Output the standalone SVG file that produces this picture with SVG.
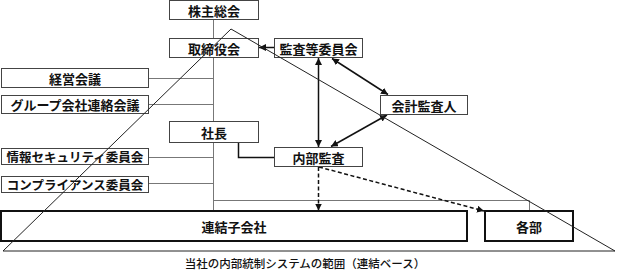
<svg xmlns="http://www.w3.org/2000/svg" width="617" height="271" viewBox="0 0 617 271">
<style>
text{font-family:"Noto Sans CJK JP","Noto Sans CJK SC",sans-serif;font-size:13px;font-weight:600;fill:#111;text-anchor:middle;dominant-baseline:central}
.b{fill:#fff;stroke:#444;stroke-width:1}
.t{fill:#fff;stroke:#111;stroke-width:2}
.g{stroke:#777;stroke-width:1;fill:none}
.a{stroke:#111;stroke-width:1.5;fill:none}
.d{stroke:#111;stroke-width:1.5;fill:none;stroke-dasharray:4 2.5}
.tri{stroke:#222;stroke-width:1;fill:none}
</style>
<defs>
<marker id="ah" viewBox="0 0 10 10" refX="10" refY="5" markerWidth="7" markerHeight="7" markerUnits="userSpaceOnUse" orient="auto-start-reverse"><path d="M0,0 L10,5 L0,10 z" fill="#111"/></marker>
</defs>
<g id="connectors">
<path class="g" d="M213.5,19 V211 M148,78.5 H213.5 M148,104.5 H213.5 M148,157.5 H213.5 M148,183.5 H213.5 M213.5,200.5 H529.5 V211"/>
<path class="a" d="M238.5,142 V157.5 H274.5"/>
<line class="a" x1="274" y1="47.5" x2="259" y2="47.5" marker-end="url(#ah)"/>
<line class="a" x1="318.5" y1="58" x2="318.5" y2="147" marker-start="url(#ah)" marker-end="url(#ah)"/>
<line class="a" x1="332" y1="58.5" x2="388" y2="94.5" marker-start="url(#ah)" marker-end="url(#ah)"/>
<line class="a" x1="387" y1="115" x2="331" y2="146.5" marker-start="url(#ah)" marker-end="url(#ah)"/>
<line class="d" x1="318.5" y1="167" x2="318.5" y2="210.5" marker-end="url(#ah)"/>
<line class="d" x1="319" y1="167" x2="484" y2="211" marker-end="url(#ah)"/>
</g>
<g id="n1"><rect class="b" x="169.5" y="0.5" width="89" height="19"/><text x="214" y="10">株主総会</text></g>
<g id="n2"><rect class="b" x="169.5" y="38.5" width="89" height="19"/><text x="214" y="48">取締役会</text></g>
<g id="n3"><rect class="b" x="274.5" y="38.5" width="88" height="19"/><text x="318.5" y="48">監査等委員会</text></g>
<g id="n4"><rect class="b" x="1.5" y="68.5" width="147" height="19"/><text x="75" y="78">経営会議</text></g>
<g id="n5"><rect class="b" x="1.5" y="95.5" width="147" height="18"/><text x="75" y="104.5">グループ会社連絡会議</text></g>
<g id="n6"><rect class="b" x="380.5" y="95.5" width="87" height="19"/><text x="424" y="105">会計監査人</text></g>
<g id="n7"><rect class="b" x="169.5" y="121.5" width="89" height="21"/><text x="214" y="132">社長</text></g>
<g id="n8"><rect class="b" x="1.5" y="148.5" width="147" height="16"/><text x="75" y="156.5" style="font-size:12.5px">情報セキュリティ委員会</text></g>
<g id="n9"><rect class="b" x="1.5" y="176.5" width="147" height="16"/><text x="75" y="184.5" style="font-size:12.5px">コンプライアンス委員会</text></g>
<g id="n10"><rect class="b" x="274.5" y="147.5" width="88" height="19"/><text x="318.5" y="157">内部監査</text></g>
<g id="n11"><rect class="t" x="1" y="211" width="466" height="30"/><text x="234" y="226">連結子会社</text></g>
<g id="n12"><rect class="t" x="485" y="211" width="88" height="30"/><text x="529" y="226">各部</text></g>
<g id="scope"><path class="tri" d="M3,251 L231,29 L615,251 Z"/></g>
<text x="305" y="262.5" style="font-size:11.5px;font-weight:500">当社の内部統制システムの範囲（連結ベース）</text>
</svg>
